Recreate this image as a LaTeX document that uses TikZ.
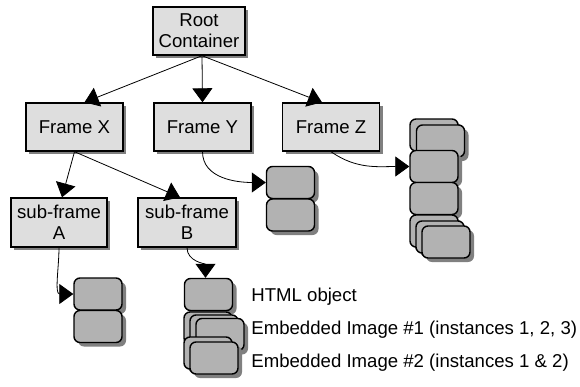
\documentclass[tikz,border=0pt]{standalone}
\usepackage{fontspec}
\setmainfont{Liberation Sans}
\usetikzlibrary{arrows.meta,shadows}
\definecolor{framegray}{gray}{0.87}
\definecolor{objgray}{gray}{0.70}
\begin{document}
\begin{tikzpicture}[x=1pt,y=-1pt,line width=0.8pt,
  >={Triangle[length=14pt,width=20pt]},
  frame node/.style={rectangle,draw,line width=1.4pt,fill=framegray,inner sep=0pt,
    minimum width=97pt,minimum height=48pt,align=center,
    font=\fontsize{18.6}{21}\selectfont,
    drop shadow={shadow xshift=3pt,shadow yshift=-3pt,fill=black!50,opacity=1}},
  obj node/.style={rectangle,rounded corners=6pt,draw,line width=1.4pt,fill=objgray,
    inner sep=0pt,minimum width=48pt,minimum height=32pt,
    drop shadow={shadow xshift=4pt,shadow yshift=-4pt,fill=black!50,opacity=1}},
  key node/.style={anchor=west,inner sep=0pt,font=\fontsize{18.6}{21}\selectfont}]
  \useasboundingbox (0,0) rectangle (580,386);
%root
  \node[frame node,minimum width=92pt] (root) at (199,31) {Root\\Container};
%frames
  \node[frame node] (fx) at (74.5,127) {Frame X};
  \node[frame node] (fy) at (202.5,127) {Frame Y};
  \node[frame node] (fz) at (331,127) {Frame Z};
%sub-frames
  \node[frame node,minimum width=96pt,minimum height=49pt] (sa) at (59,222.5) {sub-frame\\A};
  \node[frame node,minimum width=98pt,minimum height=49pt] (sb) at (187,222.5) {sub-frame\\B};
%objects of frame Y
  \node[obj node] (y1) at (290.5,182.5) {};
  \node[obj node] (y2) at (290.5,215) {};
%objects of frame Z
  \node[obj node] (z1a) at (434,135) {};
  \node[obj node] (z1b) at (440.5,141) {};
  \node[obj node] (z2) at (434,166.5) {};
  \node[obj node] (z3) at (434,198.5) {};
  \node[obj node] (z4a) at (434,231) {};
  \node[obj node] (z4b) at (440,237) {};
  \node[obj node] (z4c) at (446,242) {};
%objects of sub-frame A
  \node[obj node] (a1) at (98,294) {};
  \node[obj node] (a2) at (98,326.5) {};
%objects of sub-frame B
  \node[obj node] (b1) at (208.5,294.5) {};
  \node[obj node] (b2a) at (208,328) {};
  \node[obj node] (b2b) at (214,331) {};
  \node[obj node] (b2c) at (220,334.5) {};
  \node[obj node] (b3a) at (208,353) {};
  \node[obj node] (b3b) at (214,358) {};
%key
  \node[key node] (k1) at (251,297) {HTML object};
  \node[key node] (k2) at (251,330) {Embedded Image \#1 (instances 1, 2, 3)};
  \node[key node] (k3) at (251,363) {Embedded Image \#2 (instances 1 \& 2)};
%paths
  \path[->]
    ([xshift=3pt]root.south) edge ([xshift=10pt]fx.north)
                             edge (fy.north)
                             edge ([xshift=-9pt]fz.north)
    (fx.south) edge ([xshift=3pt]sa.north)
               edge ([xshift=-7pt]sb.north)
    (fy.south) edge [out=-90,in=180] (y1.west)
    (fz.south) edge [out=-35,in=180] (z2.west)
    (sa.south) edge [out=-90,in=180] (a1.west)
    (sb.south) edge [out=-90,in=90] ([xshift=-3pt]b1.north);
\end{tikzpicture}
\end{document}
